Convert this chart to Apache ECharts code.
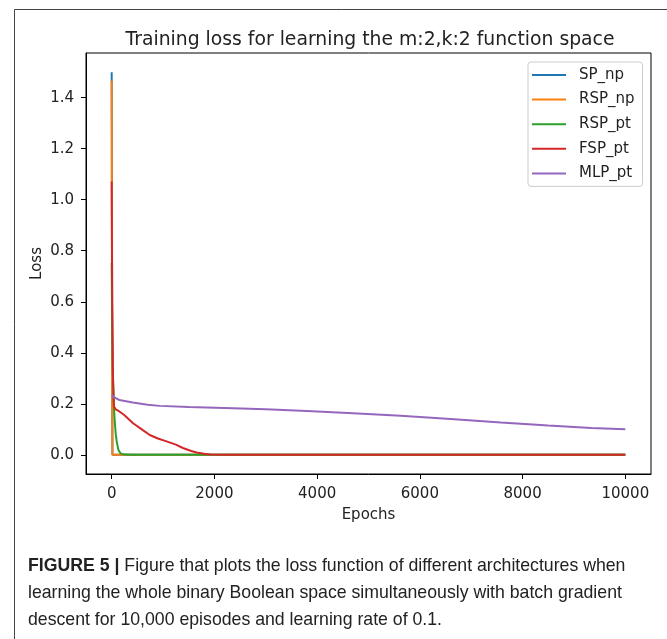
<!DOCTYPE html>
<html>
<head>
<meta charset="utf-8">
<script src="https://cdn.jsdelivr.net/npm/echarts@6/dist/echarts.min.js"></script>
<style>
html,body{margin:0;padding:0;background:#fff;}
#c{width:667px;height:639px;}
</style>
</head>
<body>
<div id="c"></div>
<script>
const seriesNames = ['SP_np', 'RSP_np', 'RSP_pt', 'FSP_pt', 'MLP_pt'];
const seriesColors = ['#1f77b4', '#ff7f0e', '#2ca02c', '#d62728', '#9467bd'];

const spNpEpochs = [0, 15, 10000];
const spNpLoss = [1.5, 0.0, 0.0];

const rspNpEpochs = [0, 12, 10000];
const rspNpLoss = [1.467, 0.0, 0.0];

const rspPtEpochs = [0, 10, 20, 40, 60, 80, 100, 130, 170, 250, 400, 10000];
const rspPtLoss = [0.752, 0.5, 0.35, 0.2, 0.13, 0.08, 0.05, 0.02, 0.006, 0.001, 0.0, 0.0];

const fspPtEpochs = [0, 10, 25, 45, 80, 150, 250, 410, 600, 742, 900, 1068, 1250, 1387, 1550, 1654, 1800, 1914, 2200, 10000];
const fspPtLoss = [1.071, 0.6, 0.3, 0.19, 0.178, 0.17, 0.155, 0.125, 0.098, 0.078, 0.064, 0.053, 0.04, 0.027, 0.015, 0.009, 0.004, 0.001, 0.0, 0.0];

const mlpPtEpochs = [0, 50, 150, 410, 700, 937, 1500, 2363, 3000, 3800, 4700, 5625, 6600, 7578, 8500, 9336, 10000];
const mlpPtLoss = [0.235, 0.225, 0.215, 0.205, 0.196, 0.192, 0.188, 0.183, 0.179, 0.172, 0.163, 0.153, 0.141, 0.127, 0.115, 0.105, 0.10];

const xTicks = [0, 2000, 4000, 6000, 8000, 10000];
const yTicks = [0.0, 0.2, 0.4, 0.6, 0.8, 1.0, 1.2, 1.4];

const titleText = 'Training loss for learning the m:2,k:2 function space';
const xName = 'Epochs';
const yName = 'Loss';
const captionBold = 'FIGURE 5 |';
const captionLines = [
  ' Figure that plots the loss function of different architectures when',
  'learning the whole binary Boolean space simultaneously with batch gradient',
  'descent for 10,000 episodes and learning rate of 0.1.'
];

const allEpochs = [spNpEpochs, rspNpEpochs, rspPtEpochs, fspPtEpochs, mlpPtEpochs];
const allLoss = [spNpLoss, rspNpLoss, rspPtLoss, fspPtLoss, mlpPtLoss];

const chart = echarts.init(document.getElementById('c'), null, {renderer: 'canvas'});
const FONT = 'DejaVu Sans';
const CAP = 'Liberation Sans';
const CAPSIZE = 17.7;
const series = seriesNames.map((n, i) => ({
  name: n,
  type: 'line',
  data: allEpochs[i].map((e, j) => [e, allLoss[i][j]]),
  showSymbol: false,
  symbol: 'none',
  smooth: false,
  lineStyle: {width: 2, color: seriesColors[i]},
  itemStyle: {color: seriesColors[i]},
  z: 2 + i,
  animation: false
}));

chart.setOption({
  animation: false,
  title: {
    text: titleText,
    left: 365, top: 26, textAlign: 'center',
    textStyle: {fontFamily: FONT, fontSize: 18.8, fontWeight: 'normal', color: '#222'}
  },
  grid: {left: 86, top: 53, width: 565, height: 421, show: true, borderColor: '#000', borderWidth: 1, backgroundColor: 'transparent'},
  legend: {
    data: seriesNames,
    orient: 'vertical',
    left: 528, top: 62,
    padding: [5, 8, 5, 4],
    itemGap: 8.6,
    itemWidth: 34, itemHeight: 2,
    icon: 'rect',
    backgroundColor: 'rgba(255,255,255,0.8)',
    borderColor: '#ccc', borderWidth: 1, borderRadius: 3,
    textStyle: {fontFamily: FONT, fontSize: 15, color: '#222', lineHeight: 16, padding: [0, 0, 0, 8]}
  },
  xAxis: {
    type: 'value', min: -500, max: 10500,
    name: xName, nameLocation: 'middle', nameGap: 34,
    nameTextStyle: {fontFamily: FONT, fontSize: 15, color: '#222'},
    axisLine: {show: true, onZero: false, lineStyle: {color: '#000', width: 1}},
    axisTick: {show: true, length: 5, customValues: xTicks, lineStyle: {color: '#000'}},
    axisLabel: {customValues: xTicks, fontFamily: FONT, fontSize: 15, color: '#222', margin: 13, formatter: v => String(v)},
    splitLine: {show: false}
  },
  yAxis: {
    type: 'value', min: -0.075, max: 1.575,
    name: yName, nameLocation: 'middle', nameGap: 41, nameMoveOverlap: false,
    nameTextStyle: {fontFamily: FONT, fontSize: 15, color: '#222'},
    axisLine: {show: true, onZero: false, lineStyle: {color: '#000', width: 1}},
    axisTick: {show: true, length: 5, customValues: yTicks, lineStyle: {color: '#000'}},
    axisLabel: {customValues: yTicks, fontFamily: FONT, fontSize: 15, color: '#222', margin: 12, formatter: v => v.toFixed(1)},
    splitLine: {show: false}
  },
  graphic: [
    {type: 'rect', shape: {x: 14.5, y: 9.5, width: 700, height: 700}, style: {fill: 'none', stroke: '#444', lineWidth: 1}, silent: true, z: -10},
    {type: 'text', left: 28, top: 557, style: {
      text: '{b|' + captionBold + '}{r|' + captionLines[0] + '}',
      rich: {
        b: {fontFamily: CAP, fontWeight: 'bold', fontSize: CAPSIZE, fill: '#222'},
        r: {fontFamily: CAP, fontSize: CAPSIZE, fill: '#222'}
      }
    }},
    {type: 'text', left: 28, top: 584, style: {text: captionLines[1], fontFamily: CAP, fontSize: CAPSIZE, fill: '#222'}},
    {type: 'text', left: 28, top: 611, style: {text: captionLines[2], fontFamily: CAP, fontSize: CAPSIZE, fill: '#222'}}
  ],
  series: series
});
</script>
</body>
</html>
